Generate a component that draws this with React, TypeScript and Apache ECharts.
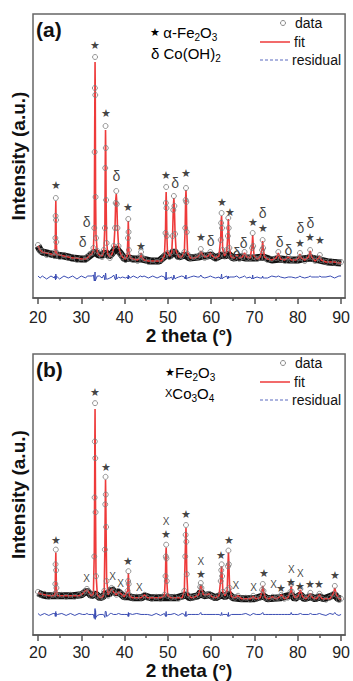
import React, { useEffect, useRef } from 'react';
import * as echarts from 'echarts';

// [2θ, observed, calculated] — panel (a)
const scanA: [number, number, number][] = [
  [20.0, 53, 52], [20.5, 47, 48], [21, 47, 46], [22, 43, 45], [23, 45, 44], [23.8, 42, 43],
  [23.95, 46, 45], [24.02, 60, 62], [24.07, 82, 85], [24.12, 100, 97], [24.17, 78, 80], [24.23, 56, 55], [24.35, 45, 44],
  [25, 41, 43], [26, 43, 42], [27, 40, 41], [28, 41, 40], [29, 38, 40], [30, 40, 39], [31, 38, 39], [31.4, 41, 40],
  [32.0, 44, 43], [32.5, 45, 44], [32.8, 50, 48],
  [33.0, 70, 74], [33.08, 146, 149], [33.14, 210, 207], [33.18, 241, 236], [33.23, 203, 207], [33.3, 101, 105], [33.4, 60, 62],
  [33.7, 47, 46], [34.2, 44, 43], [34.8, 41, 42], [35.2, 48, 46],
  [35.45, 70, 73], [35.53, 130, 133], [35.6, 172, 168], [35.66, 150, 147], [35.73, 98, 100], [35.85, 55, 57],
  [36.1, 42, 44], [36.6, 40, 41], [37.1, 44, 44], [37.5, 52, 50],
  [37.8, 70, 72], [37.95, 95, 98], [38.08, 107, 104], [38.2, 94, 96], [38.35, 70, 72], [38.6, 52, 52],
  [39.0, 44, 45], [39.5, 41, 41], [40.2, 38, 39], [40.6, 42, 42],
  [40.78, 60, 62], [40.85, 79, 77], [40.92, 66, 68], [41.0, 48, 47], [41.3, 39, 40],
  [42, 40, 39], [43, 37, 38], [43.6, 42, 41], [43.8, 46, 45], [44.0, 41, 41], [44.5, 39, 38],
  [45.5, 36, 37], [46.5, 38, 37], [47.5, 36, 37], [48.5, 38, 37], [49.2, 42, 42],
  [49.45, 65, 68], [49.53, 95, 93], [49.6, 111, 106], [49.67, 90, 93], [49.75, 62, 65], [49.9, 45, 46],
  [50.4, 41, 42], [50.9, 46, 46],
  [51.1, 62, 65], [51.25, 88, 90], [51.38, 102, 100], [51.5, 92, 90], [51.65, 64, 66], [51.9, 46, 47],
  [52.5, 41, 41], [53.2, 42, 41], [53.8, 46, 46],
  [54.0, 70, 72], [54.1, 98, 100], [54.18, 110, 108], [54.26, 96, 98], [54.36, 66, 68], [54.55, 44, 45],
  [55.2, 40, 40], [56, 41, 40], [56.8, 41, 41], [57.3, 43, 43], [57.6, 49, 47], [57.9, 44, 44],
  [58.5, 40, 41], [59.3, 42, 42], [59.8, 46, 45], [60.3, 42, 42], [61, 39, 40], [61.8, 42, 42],
  [62.2, 58, 60], [62.3, 75, 77], [62.4, 85, 82], [62.5, 70, 72], [62.65, 48, 49], [63.1, 42, 42], [63.6, 48, 47],
  [63.85, 62, 64], [63.95, 80, 79], [64.05, 70, 71], [64.2, 50, 50], [64.6, 41, 41],
  [65.3, 40, 40], [65.9, 44, 43], [66.5, 39, 40], [67.2, 41, 41], [67.7, 46, 45], [68.2, 40, 41], [69.0, 40, 40],
  [69.45, 50, 52], [69.58, 65, 63], [69.7, 52, 54], [69.9, 41, 42], [70.6, 39, 39], [71.3, 40, 41],
  [71.75, 48, 49], [71.88, 58, 57], [72.0, 50, 51], [72.3, 40, 41],
  [73, 38, 39], [74, 39, 38], [75.0, 40, 40], [75.5, 46, 45], [76.0, 39, 39], [77.0, 37, 38], [77.8, 41, 41],
  [78.5, 38, 38], [79.5, 37, 38], [80.2, 40, 40], [80.5, 45, 44], [80.8, 40, 40], [81.6, 37, 38],
  [82.5, 41, 41], [82.85, 48, 47], [83.2, 41, 41], [84.0, 37, 37], [84.8, 40, 40], [85.1, 43, 42], [85.4, 38, 38],
  [86.5, 36, 36], [87.5, 37, 36], [88.5, 35, 36], [89.5, 36, 35], [90, 36, 35],
];

// background band (dense data points along baseline) — panel (a)
const bandA: [number, number][] = [
  [20, 52], [20.5, 48], [21, 46], [22, 45], [23, 44], [24, 43], [26, 42], [28, 40], [30, 39], [31, 39], [32.5, 44],
  [33.2, 46], [34, 43], [35, 43], [35.6, 46], [36.3, 42], [37, 44], [38, 50], [39, 45], [40, 39], [41, 40], [42, 39],
  [44, 39], [46, 37], [48, 37], [49.6, 43], [50.5, 42], [51.4, 47], [52.5, 41], [54, 43], [55, 40], [57, 41], [58, 42],
  [59, 42], [60, 43], [61, 40], [62.4, 43], [63.2, 42], [64, 44], [65, 40], [67, 41], [68, 40], [70, 40], [72, 41],
  [74, 38], [76, 39], [78, 38], [80, 38], [81, 39], [83, 40], [85, 38], [87, 36], [90, 35],
];

// [2θ, observed, calculated] — panel (b)
const scanB: [number, number, number][] = [
  [20.0, 44, 43], [20.5, 41, 42], [21.5, 42, 41], [22.5, 39, 40], [23.5, 41, 40], [23.9, 42, 41],
  [24.0, 52, 54], [24.06, 72, 70], [24.12, 87, 84], [24.18, 66, 68], [24.26, 48, 47], [24.5, 40, 40],
  [25.5, 41, 40], [26.5, 39, 40], [27.5, 41, 40], [28.5, 39, 40], [29.5, 41, 40], [30.3, 42, 42], [30.9, 45, 45],
  [31.3, 47, 46], [31.7, 44, 44], [32.3, 40, 40], [32.8, 42, 42],
  [33.0, 80, 84], [33.08, 140, 144], [33.13, 197, 195], [33.18, 236, 230], [33.23, 180, 185], [33.3, 125, 121], [33.4, 60, 63],
  [33.7, 40, 41], [34.3, 38, 38], [35.0, 39, 39], [35.3, 45, 46],
  [35.45, 87, 90], [35.53, 133, 130], [35.6, 161, 158], [35.66, 143, 140], [35.73, 110, 107], [35.85, 55, 57],
  [36.2, 40, 41], [36.7, 46, 45], [37.0, 48, 47], [37.4, 44, 44], [38.1, 41, 41], [38.6, 45, 44], [39.2, 42, 42],
  [39.9, 39, 39], [40.7, 45, 45], [40.82, 55, 57], [40.88, 65, 63], [40.95, 52, 54], [41.1, 41, 40],
  [41.8, 38, 38], [42.8, 39, 38], [43.8, 38, 38], [44.6, 41, 41], [45.3, 38, 38], [46.3, 37, 38], [47.3, 39, 38],
  [48.3, 37, 38], [49.2, 41, 40],
  [49.45, 60, 62], [49.53, 80, 82], [49.6, 92, 89], [49.67, 78, 80], [49.75, 55, 56], [49.95, 40, 40],
  [50.7, 38, 38], [51.5, 39, 38], [52.4, 37, 38], [53.3, 39, 38], [53.8, 45, 45],
  [54.0, 80, 82], [54.1, 102, 100], [54.18, 112, 109], [54.26, 95, 97], [54.36, 62, 64], [54.6, 41, 41],
  [55.4, 38, 38], [56.3, 39, 39], [57.1, 41, 41], [57.45, 49, 48], [57.6, 53, 51], [57.75, 48, 48], [58.2, 41, 41],
  [59.0, 41, 41], [59.5, 42, 42], [60.2, 39, 39], [61.0, 38, 38], [61.8, 40, 40],
  [62.2, 55, 56], [62.32, 66, 67], [62.42, 72, 70], [62.52, 60, 61], [62.7, 44, 44], [63.2, 40, 40], [63.7, 46, 46],
  [63.88, 70, 72], [63.98, 86, 84], [64.08, 72, 74], [64.25, 48, 49], [64.7, 39, 39],
  [65.5, 38, 38], [66.2, 40, 40], [67.0, 37, 37], [68.0, 38, 37], [69.0, 36, 37], [69.7, 40, 39], [70.4, 37, 37],
  [71.3, 38, 38], [71.75, 46, 45], [71.92, 52, 50], [72.08, 45, 45], [72.5, 38, 38], [73.3, 37, 37],
  [74.2, 39, 39], [74.8, 37, 37], [75.5, 38, 38], [76.2, 41, 41], [76.9, 37, 37], [77.7, 38, 38],
  [78.3, 44, 44], [78.48, 52, 50], [78.65, 44, 44], [79.3, 38, 38], [80.0, 39, 39], [80.6, 47, 46], [81.1, 39, 39],
  [81.9, 37, 37], [82.5, 40, 40], [82.9, 43, 42], [83.4, 38, 38], [84.3, 37, 37], [85.0, 42, 41], [85.6, 37, 37],
  [86.5, 36, 37], [87.4, 38, 37], [88.2, 42, 42], [88.55, 50, 48], [88.9, 41, 41], [89.5, 36, 37], [90.0, 37, 37],
];

const bandB: [number, number][] = [
  [20, 43], [21, 41], [22, 40], [24, 40], [26, 40], [28, 40], [30, 41], [31.3, 45], [32.3, 40], [33.2, 42], [34.3, 38],
  [35, 39], [35.6, 43], [36.3, 41], [37, 47], [37.8, 43], [38.6, 44], [39.9, 39], [41, 39], [42, 38], [44, 38],
  [44.6, 40], [46, 38], [48, 38], [50, 38], [52, 38], [54.2, 41], [55, 38], [57, 40], [57.6, 44], [58.3, 40],
  [59.5, 41], [61, 38], [62.4, 41], [63.2, 39], [64, 42], [65, 38], [67, 37], [70, 37], [72, 40], [73, 37], [76, 38],
  [78.5, 41], [79.3, 37], [80.6, 41], [81.5, 37], [83, 39], [84, 37], [85, 39], [86, 37], [88.5, 41], [89.3, 37], [90, 37],
];

// phase markers [2θ, height]
const starA: [number, number][] = [
  [24.1, 113], [33.1, 253], [35.6, 185], [40.9, 91], [43.9, 52], [49.6, 123], [54.2, 125], [57.7, 61],
  [62.4, 96], [64.4, 86], [69.6, 76], [71.9, 70], [80.6, 55], [82.9, 61], [85.2, 58],
];
const deltaA: [number, number][] = [
  [31.25, 76], [30.3, 56], [38.1, 122], [51.7, 115], [59.9, 57], [65.9, 45], [67.5, 55], [71.9, 85],
  [75.8, 56], [77.8, 48], [80.6, 70], [82.9, 75],
];
const starB: [number, number][] = [
  [24.1, 97], [33.1, 247], [35.6, 171], [40.7, 75], [49.6, 103], [54.2, 123], [57.6, 62], [62.2, 81],
  [64.1, 97], [72.3, 63], [76.2, 48], [78.5, 54], [80.6, 50], [82.9, 52], [85.0, 52], [88.6, 61],
];
const crossB: [number, number][] = [
  [31.25, 58], [37.2, 60], [39.05, 53], [43.4, 48], [49.6, 116], [57.6, 75], [65.7, 50], [69.8, 48],
  [74.4, 51], [78.5, 67], [80.6, 63],
];

const xTicks = [20, 30, 40, 50, 60, 70, 80, 90];
const xMinorTicks = [25, 35, 45, 55, 65, 75, 85];
const residualOffset = 21;

const FONT = '"Liberation Sans", Arial, sans-serif';
const RED = '#ee3a3a';
const BLUE = '#3b4db3';

export default function App() {
  const ref = useRef<HTMLDivElement>(null);

  useEffect(() => {
    const chart = echarts.init(ref.current!, null, { renderer: 'svg' });

    const gridBase = { left: 33, width: 314, show: true, borderColor: '#666', borderWidth: 1.5, backgroundColor: 'transparent' };

    const majorAxis = (grid: number, margin: number, nameGap: number) => ({
      type: 'value', gridIndex: grid, position: 'bottom', min: 18.85, max: 90.92,
      axisLine: { show: true, lineStyle: { color: '#555', width: 1.5 } },
      axisTick: { show: true, customValues: xTicks, length: 6, lineStyle: { color: '#555', width: 1.5 } },
      axisLabel: { show: true, customValues: xTicks, fontSize: 16, color: '#222', margin, fontFamily: FONT },
      splitLine: { show: false },
      name: '2 theta (°)', nameLocation: 'middle', nameGap,
      nameTextStyle: { fontSize: 19, fontWeight: 'bold', color: '#111', fontFamily: FONT },
    });
    const minorAxis = (grid: number) => ({
      type: 'value', gridIndex: grid, position: 'bottom', min: 18.85, max: 90.92,
      axisLine: { show: false },
      axisTick: { show: true, customValues: xMinorTicks, length: 3, lineStyle: { color: '#555', width: 1.5 } },
      axisLabel: { show: false },
      splitLine: { show: false },
    });
    const yAx = (grid: number, max: number) => ({
      type: 'value', gridIndex: grid, min: 0, max,
      axisLine: { show: false }, axisTick: { show: false }, axisLabel: { show: false }, splitLine: { show: false },
      name: 'Intensity (a.u.)', nameLocation: 'middle', nameGap: 5,
      nameTextStyle: { fontSize: 19, fontWeight: 'bold', color: '#111', fontFamily: FONT },
    });

    const panelSeries = (
      scan: [number, number, number][], band: [number, number][], xi: number, yi: number,
    ) => [
      {
        type: 'line', name: 'band', xAxisIndex: xi, yAxisIndex: yi, data: band, symbol: 'none',
        lineStyle: { color: '#111', width: 7 }, z: 1, silent: true,
      },
      {
        type: 'line', name: 'fit', xAxisIndex: xi, yAxisIndex: yi, data: scan.map((r) => [r[0], r[2]]),
        symbol: 'none', lineStyle: { color: RED, width: 1.6 }, z: 2,
      },
      {
        type: 'scatter', name: 'data', xAxisIndex: xi, yAxisIndex: yi, data: scan.map((r) => [r[0], r[1]]),
        symbol: 'circle', symbolSize: 5,
        itemStyle: { color: 'rgba(0,0,0,0)', borderColor: '#7a7a7a', borderWidth: 1 }, z: 3,
      },
      {
        type: 'line', name: 'residual', xAxisIndex: xi, yAxisIndex: yi,
        data: scan.map((r) => [r[0], r[1] - r[2] + residualOffset]),
        symbol: 'none', lineStyle: { color: BLUE, width: 1 }, z: 2,
      },
    ];

    const markSeries = (pts: [number, number][], glyph: string, xi: number, yi: number, size: number) => ({
      type: 'scatter', xAxisIndex: xi, yAxisIndex: yi, data: pts, symbol: 'circle', symbolSize: 1,
      itemStyle: { color: 'rgba(0,0,0,0)' }, z: 5,
      label: { show: true, position: 'inside', formatter: glyph, fontSize: size, color: '#111', fontFamily: FONT },
    });

    const text = (x: number, y: number, t: string, size: number, extra: any = {}) => ({
      type: 'text', x, y,
      style: { text: t, fontSize: size, fontFamily: FONT, fill: '#111', align: 'left', verticalAlign: 'middle', ...extra },
    });

    const rich = {
      n: { fontSize: 15, lineHeight: 20, fontFamily: FONT, color: '#111', verticalAlign: 'middle' },
      s: { fontSize: 10, lineHeight: 8, fontFamily: FONT, color: '#111', verticalAlign: 'bottom' },
      st: { fontSize: 11, lineHeight: 20, fontFamily: FONT, color: '#111', verticalAlign: 'middle' },
      x: { fontSize: 11, lineHeight: 20, fontFamily: FONT, color: '#111', verticalAlign: 'middle' },
    };

    const legend = (dy: number) => [
      { type: 'circle', shape: { cx: 283, cy: 23 + dy, r: 2.5 }, style: { fill: 'none', stroke: '#888', lineWidth: 1 } },
      text(295, 23 + dy, 'data', 14),
      { type: 'line', shape: { x1: 260, y1: 42 + dy, x2: 290, y2: 42 + dy }, style: { stroke: RED, lineWidth: 1.5 } },
      text(294, 42 + dy, 'fit', 14),
      { type: 'line', shape: { x1: 260, y1: 60 + dy, x2: 290, y2: 60 + dy }, style: { stroke: '#5a6bc0', lineWidth: 1.2, lineDash: [3, 2] } },
      text(292, 60 + dy, 'residual', 14),
    ];

    const option: any = {
      animation: false,
      textStyle: { fontFamily: FONT },
      grid: [
        { ...gridBase, top: 14, height: 284 },
        { ...gridBase, top: 354, height: 286 },
      ],
      xAxis: [majorAxis(0, 11, 25), minorAxis(0), majorAxis(1, 9, 21), minorAxis(1)],
      yAxis: [yAx(0, 284), yAx(1, 286)],
      series: [
        ...panelSeries(scanA, bandA, 0, 0),
        ...panelSeries(scanB, bandB, 2, 1),
        markSeries(starA, '★', 0, 0, 11),
        markSeries(deltaA, 'δ', 0, 0, 14),
        markSeries(starB, '★', 2, 1, 11),
        markSeries(crossB, 'X', 2, 1, 10),
      ],
      graphic: [
        text(36, 29, '(a)', 21, { fontWeight: 'bold' }),
        text(36, 369, '(b)', 21, { fontWeight: 'bold' }),
        { type: 'text', x: 150, y: 32, style: { text: '{st|★} {n|α-Fe}{s|2}{n|O}{s|3}', rich, verticalAlign: 'middle', align: 'left' } },
        { type: 'text', x: 151, y: 53, style: { text: '{n|δ Co(OH)}{s|2}', rich, verticalAlign: 'middle', align: 'left' } },
        { type: 'text', x: 165, y: 372, style: { text: '{st|★}{n|Fe}{s|2}{n|O}{s|3}', rich, verticalAlign: 'middle', align: 'left' } },
        { type: 'text', x: 165, y: 393, style: { text: '{x|X}{n|Co}{s|3}{n|O}{s|4}', rich, verticalAlign: 'middle', align: 'left' } },
        ...legend(0),
        ...legend(340),
      ],
    };

    chart.setOption(option);
    return () => chart.dispose();
  }, []);

  return <div ref={ref} style={{ position: 'absolute', left: 0, top: 0, width: 353, height: 681 }} />;
}
